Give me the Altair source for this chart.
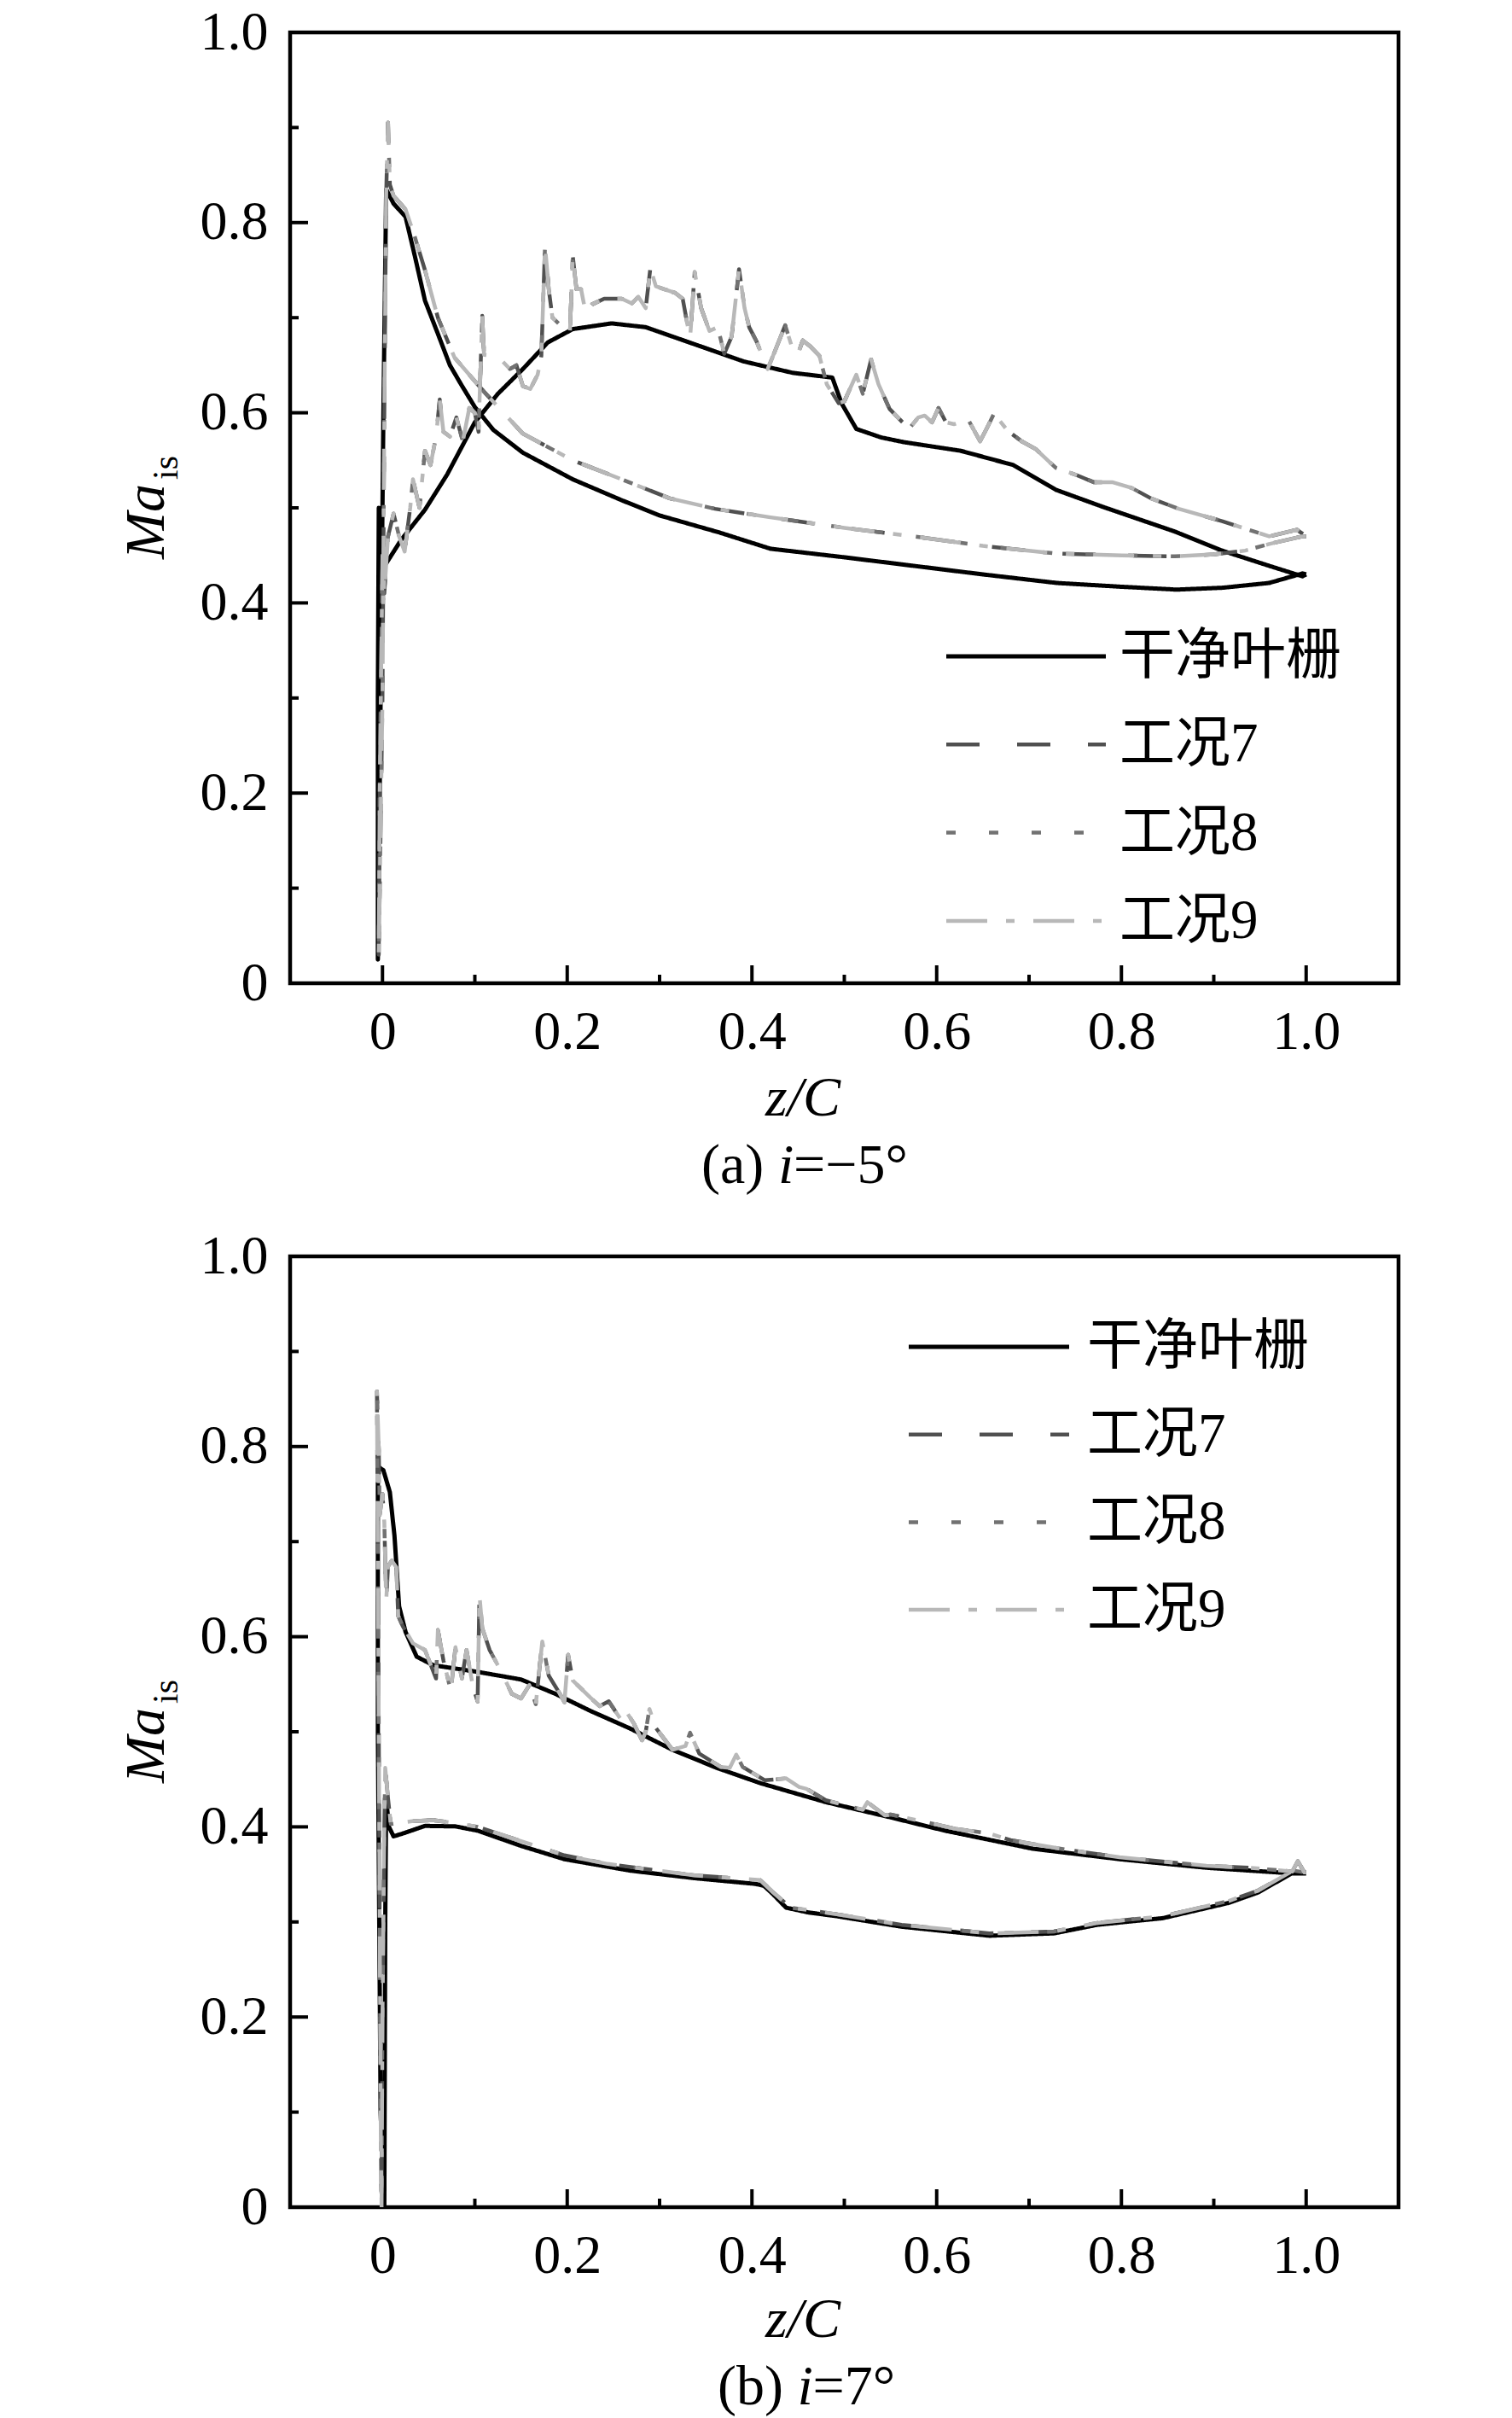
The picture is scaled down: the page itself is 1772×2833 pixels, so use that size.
import altair as alt
import pandas as pd

SERIES = ["干净叶栅", "工况7", "工况8", "工况9"]
COLORS = ["#000000", "#505050", "#727272", "#b8b8b8"]
DASHES = [[1, 0], [39, 44], [11, 39], [48, 22, 10, 22]]
WIDTHS = [5, 4.5, 4.5, 4.5]

X_LABELS = [0, 0.2, 0.4, 0.6, 0.8, 1.0]
X_MINOR = [0.1, 0.3, 0.5, 0.7, 0.9]
Y_LABELS = [0, 0.2, 0.4, 0.6, 0.8, 1.0]
Y_MAJOR = [0.2, 0.4, 0.6, 0.8]
Y_MINOR = [0.1, 0.3, 0.5, 0.7, 0.9]

# (a) i = -5 deg : clean cascade, ordered around the blade
A_CLEAN = [
    (1.0, 0.430), (0.996, 0.431), (0.96, 0.421), (0.91, 0.416), (0.86, 0.414),
    (0.80, 0.417), (0.73, 0.421), (0.65, 0.430), (0.575, 0.439), (0.50, 0.448),
    (0.42, 0.457), (0.365, 0.474), (0.30, 0.492), (0.259, 0.508), (0.206, 0.530),
    (0.152, 0.558), (0.12, 0.582), (0.10, 0.606), (0.085, 0.630), (0.073, 0.650),
    (0.06, 0.683), (0.046, 0.718), (0.035, 0.765), (0.025, 0.806), (0.012, 0.820),
    (0.004, 0.835), (0.001, 0.60), (-0.003, 0.20), (-0.005, 0.025), (-0.005, 0.30),
    (-0.004, 0.50), (0.003, 0.440), (0.02, 0.466), (0.046, 0.498), (0.07, 0.535),
    (0.10, 0.590), (0.125, 0.620), (0.152, 0.646), (0.179, 0.674), (0.206, 0.688),
    (0.248, 0.694), (0.285, 0.690), (0.338, 0.672), (0.391, 0.654), (0.444, 0.642),
    (0.487, 0.637), (0.497, 0.610), (0.513, 0.583), (0.540, 0.574), (0.565, 0.569),
    (0.626, 0.560), (0.683, 0.545), (0.729, 0.519), (0.780, 0.501), (0.858, 0.475),
    (0.909, 0.455), (0.960, 0.439), (0.996, 0.428), (1.0, 0.430),
]

# (a) i = -5 deg : 工况7/8/9 (curves coincide)
A_CASE = [
    (1.0, 0.470), (0.996, 0.470), (0.96, 0.462), (0.934, 0.455), (0.90, 0.451),
    (0.858, 0.449), (0.80, 0.450), (0.729, 0.452), (0.65, 0.460), (0.575, 0.470),
    (0.50, 0.479), (0.42, 0.490), (0.36, 0.499), (0.311, 0.510), (0.259, 0.530),
    (0.206, 0.550), (0.152, 0.578), (0.11, 0.622), (0.078, 0.658), (0.06, 0.700),
    (0.046, 0.750), (0.035, 0.785), (0.025, 0.814), (0.012, 0.828), (0.008, 0.840),
    (0.006, 0.905), (0.004, 0.830), (0.002, 0.60), (0.0, 0.30), (-0.004, 0.030),
    (-0.003, 0.20), (0.0, 0.45), (0.002, 0.410), (0.006, 0.470), (0.012, 0.494),
    (0.018, 0.470), (0.024, 0.454), (0.030, 0.500), (0.033, 0.530), (0.040, 0.500),
    (0.046, 0.560), (0.052, 0.545), (0.058, 0.575), (0.062, 0.614), (0.066, 0.580),
    (0.073, 0.575), (0.080, 0.595), (0.087, 0.570), (0.094, 0.605), (0.100, 0.600),
    (0.104, 0.580), (0.108, 0.702), (0.110, 0.661), (0.118, 0.660), (0.126, 0.658),
    (0.138, 0.646), (0.145, 0.650), (0.152, 0.628), (0.160, 0.625), (0.168, 0.640),
    (0.172, 0.660), (0.176, 0.776), (0.180, 0.730), (0.184, 0.700), (0.195, 0.690),
    (0.203, 0.686), (0.206, 0.765), (0.210, 0.730), (0.215, 0.730), (0.220, 0.705),
    (0.227, 0.714), (0.240, 0.720), (0.259, 0.720), (0.270, 0.715), (0.277, 0.722),
    (0.285, 0.710), (0.290, 0.752), (0.296, 0.733), (0.305, 0.730), (0.317, 0.726),
    (0.325, 0.720), (0.333, 0.678), (0.338, 0.748), (0.345, 0.710), (0.354, 0.686),
    (0.363, 0.690), (0.370, 0.662), (0.378, 0.680), (0.386, 0.751), (0.392, 0.710),
    (0.397, 0.690), (0.405, 0.675), (0.417, 0.646), (0.425, 0.665), (0.436, 0.692),
    (0.443, 0.670), (0.449, 0.660), (0.455, 0.676), (0.463, 0.670), (0.473, 0.660),
    (0.481, 0.630), (0.494, 0.610), (0.500, 0.612), (0.513, 0.640), (0.520, 0.620),
    (0.529, 0.656), (0.537, 0.630), (0.549, 0.604), (0.570, 0.583), (0.580, 0.595),
    (0.587, 0.597), (0.595, 0.590), (0.602, 0.605), (0.610, 0.590), (0.619, 0.588),
    (0.634, 0.593), (0.647, 0.570), (0.655, 0.585), (0.662, 0.599), (0.677, 0.581),
    (0.692, 0.570), (0.707, 0.562), (0.729, 0.542), (0.750, 0.535), (0.770, 0.527),
    (0.790, 0.527), (0.811, 0.521), (0.832, 0.510), (0.862, 0.499), (0.909, 0.486),
    (0.960, 0.470), (0.990, 0.477), (1.0, 0.470),
]

# (b) i = 7 deg : clean cascade
B_CLEAN = [
    (1.0, 0.351), (0.986, 0.351), (0.892, 0.357), (0.798, 0.366), (0.704, 0.377),
    (0.609, 0.396), (0.550, 0.410), (0.480, 0.426), (0.409, 0.446), (0.362, 0.462),
    (0.314, 0.481), (0.268, 0.5035), (0.225, 0.522), (0.187, 0.540), (0.150, 0.555),
    (0.103, 0.563), (0.055, 0.570), (0.037, 0.579), (0.025, 0.605), (0.018, 0.632),
    (0.013, 0.706), (0.008, 0.752), (0.001, 0.775), (-0.005, 0.779), (-0.005, 0.50),
    (-0.002, 0.10), (0.002, 0.0), (0.003, 0.30), (0.004, 0.430), (0.007, 0.400),
    (0.012, 0.390), (0.022, 0.393), (0.046, 0.401), (0.079, 0.4005), (0.103, 0.396),
    (0.150, 0.380), (0.197, 0.366), (0.268, 0.354), (0.338, 0.346), (0.404, 0.340),
    (0.413, 0.338), (0.423, 0.329), (0.437, 0.315), (0.461, 0.310), (0.492, 0.306),
    (0.562, 0.295), (0.657, 0.2855), (0.727, 0.288), (0.774, 0.297), (0.845, 0.304),
    (0.916, 0.320), (0.948, 0.331), (0.986, 0.352), (1.0, 0.351),
]

# (b) i = 7 deg : 工况7/8/9 (curves coincide)
B_CASE = [
    (1.0, 0.352), (0.998, 0.352), (0.991, 0.364), (0.985, 0.353), (0.939, 0.357),
    (0.892, 0.359), (0.798, 0.368), (0.740, 0.376), (0.680, 0.386), (0.657, 0.393),
    (0.620, 0.398), (0.602, 0.402), (0.550, 0.413), (0.544, 0.412), (0.525, 0.426),
    (0.520, 0.418), (0.480, 0.428), (0.459, 0.440), (0.451, 0.442), (0.437, 0.451),
    (0.414, 0.449), (0.390, 0.463), (0.383, 0.476), (0.376, 0.462), (0.366, 0.463),
    (0.343, 0.477), (0.333, 0.499), (0.328, 0.485), (0.314, 0.481), (0.296, 0.504),
    (0.289, 0.524), (0.285, 0.500), (0.281, 0.491), (0.272, 0.509), (0.262, 0.524),
    (0.258, 0.513), (0.245, 0.532), (0.235, 0.527), (0.225, 0.536), (0.206, 0.554),
    (0.201, 0.581), (0.197, 0.531), (0.192, 0.540), (0.180, 0.559), (0.173, 0.595),
    (0.166, 0.529), (0.159, 0.549), (0.150, 0.535), (0.140, 0.540), (0.126, 0.568),
    (0.116, 0.586), (0.108, 0.609), (0.105, 0.644), (0.103, 0.532), (0.098, 0.547),
    (0.091, 0.586), (0.086, 0.556), (0.079, 0.589), (0.074, 0.543), (0.066, 0.575),
    (0.060, 0.607), (0.058, 0.556), (0.046, 0.586), (0.033, 0.593), (0.022, 0.611),
    (0.017, 0.622), (0.015, 0.673), (0.010, 0.680), (0.006, 0.674), (0.004, 0.637),
    (0.002, 0.720), (0.0, 0.750), (-0.003, 0.728), (-0.004, 0.797), (-0.006, 0.858),
    (-0.004, 0.50), (-0.002, 0.10), (-0.001, 0.0), (0.0, 0.20), (0.002, 0.400),
    (0.003, 0.462), (0.006, 0.430), (0.009, 0.403), (0.032, 0.406), (0.055, 0.407),
    (0.079, 0.404), (0.103, 0.400), (0.150, 0.385), (0.197, 0.370), (0.244, 0.361),
    (0.290, 0.355), (0.338, 0.349), (0.409, 0.344), (0.423, 0.331), (0.442, 0.315),
    (0.465, 0.312), (0.492, 0.308), (0.562, 0.297), (0.657, 0.288), (0.727, 0.290),
    (0.774, 0.299), (0.845, 0.306), (0.916, 0.322), (0.948, 0.333), (0.986, 0.354),
    (1.0, 0.352),
]

W, H = 1299, 1114
NUM_FONT = "Liberation Serif"
LEG_FONT = "Liberation Serif, Noto Sans CJK SC"
FS = 64

xs = alt.Scale(domain=[-0.1, 1.1], nice=False, zero=False)
ys = alt.Scale(domain=[0, 1.0], nice=False, zero=False)
LBL = "datum.value == 0 ? '0' : format(datum.value, '.1f')"
xaxis = alt.Axis(values=X_LABELS, labelExpr=LBL, ticks=False, tickSize=0, domain=False,
                 grid=False, labelFont=NUM_FONT, labelFontSize=FS, labelColor="black",
                 labelPadding=25, title=None, labelFlush=False, labelOverlap=False)
yaxis = alt.Axis(values=Y_LABELS, labelExpr=LBL, ticks=False, tickSize=0, domain=False,
                 grid=False, labelFont=NUM_FONT, labelFontSize=FS, labelColor="black",
                 labelPadding=26, title=None, labelFlush=False, labelOverlap=False)

ONE = pd.DataFrame({"k": [0]})


def txt(x, y, text, size=66, italic=False, align="center", baseline="alphabetic", angle=0, font=NUM_FONT):
    kw = dict(text=text, fontSize=size, font=font, color="black", align=align, baseline=baseline)
    if italic:
        kw["fontStyle"] = "italic"
    if angle:
        kw["angle"] = angle
    return alt.Chart(ONE).mark_text(**kw).encode(x=alt.value(x), y=alt.value(y))


def panel(clean, case, cap, legend):
    rows = []
    for s in SERIES:
        pts = clean if s == SERIES[0] else case
        for k, (z, m) in enumerate(pts):
            rows.append({"series": s, "z": z, "ma": m, "k": k})
    df = pd.DataFrame(rows)
    layers = []
    # inward ticks
    layers.append(alt.Chart(pd.DataFrame({"v": Y_MAJOR})).mark_rule(color="black", strokeWidth=4)
                  .encode(y=alt.Y("v:Q", scale=ys, axis=yaxis), x=alt.value(0), x2=alt.value(21)))
    layers.append(alt.Chart(pd.DataFrame({"v": Y_MINOR})).mark_rule(color="black", strokeWidth=4)
                  .encode(y=alt.Y("v:Q", scale=ys, axis=yaxis), x=alt.value(0), x2=alt.value(10)))
    layers.append(alt.Chart(pd.DataFrame({"v": X_LABELS})).mark_rule(color="black", strokeWidth=4)
                  .encode(x=alt.X("v:Q", scale=xs, axis=xaxis), y=alt.value(H), y2=alt.value(H - 21)))
    layers.append(alt.Chart(pd.DataFrame({"v": X_MINOR})).mark_rule(color="black", strokeWidth=4)
                  .encode(x=alt.X("v:Q", scale=xs, axis=xaxis), y=alt.value(H), y2=alt.value(H - 10)))
    # data lines
    for s, c, d, w in zip(SERIES, COLORS, DASHES, WIDTHS):
        layers.append(
            alt.Chart(df).transform_filter(alt.datum.series == s)
            .mark_line(color=c, strokeDash=d, strokeWidth=w, strokeCap="butt",
                       strokeJoin="round", clip=True)
            .encode(x=alt.X("z:Q", scale=xs, axis=xaxis),
                    y=alt.Y("ma:Q", scale=ys, axis=yaxis),
                    order="k:Q")
        )
    # legend
    lx, ly, dy, ln, tx = legend
    for i, (s, c, d, w) in enumerate(zip(SERIES, COLORS, DASHES, WIDTHS)):
        yy = ly + i * dy
        layers.append(alt.Chart(ONE).mark_rule(color=c, strokeDash=d, strokeWidth=w, strokeCap="butt")
                      .encode(x=alt.value(lx), x2=alt.value(lx + ln), y=alt.value(yy)))
        layers.append(txt(tx, yy, s, size=65, align="left", baseline="middle", font=LEG_FONT))
    # axis titles
    layers.append(txt(-148, 573, "Ma", size=66, italic=True, angle=270))
    layers.append(txt(-132, 510, "is", size=42, angle=270))
    layers.append(txt(601, cap[0] - 79, "z/C", size=66, italic=True))
    # caption
    cy = cap[0]
    for (x, t, it) in cap[1]:
        layers.append(txt(x, cy, t, size=66, italic=it, align="left"))
    return alt.layer(*layers).properties(width=W, height=H)


top = panel(A_CLEAN, A_CASE,
            (1348, [(482, "(a)", False), (572, "i", True), (590, "=\u22125\u00b0", False)]),
            (769, 731, 103.3, 187, 972))
bottom = panel(B_CLEAN, B_CASE,
               (1345, [(501, "(b)", False), (594.5, "i", True), (612.5, "=7\u00b0", False)]),
               (725, 106, 102.7, 188, 934))

chart = (
    alt.vconcat(top, bottom, spacing=35)
    .properties(padding={"left": 128, "top": -5, "right": 10, "bottom": 0})
    .configure_view(stroke="black", strokeWidth=4.5)
)

chart.save("out.html", embed_options={"renderer": "svg", "actions": False})
